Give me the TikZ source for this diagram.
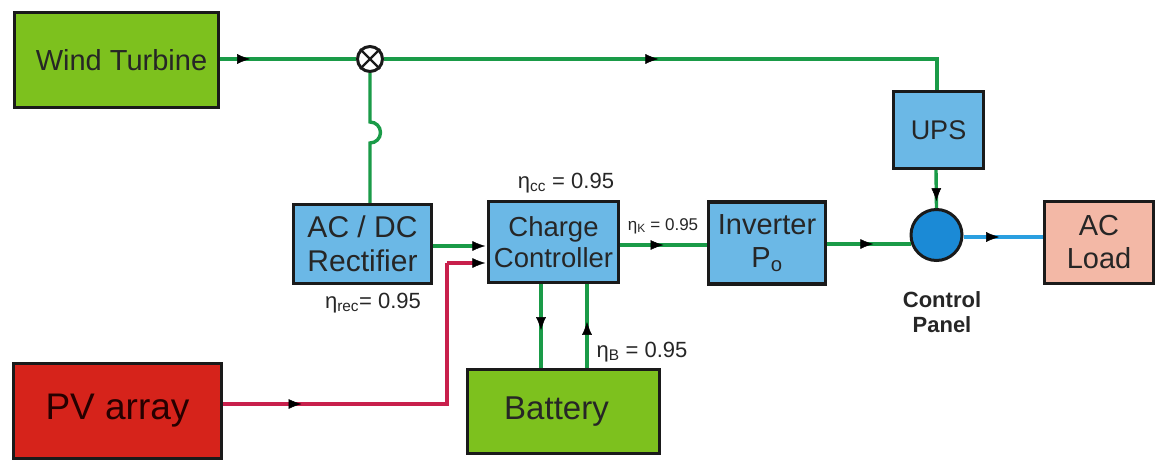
\documentclass[tikz,border=0pt]{standalone}
\usepackage{fontspec}
\setmainfont{Liberation Sans}
\usetikzlibrary{decorations.markings,arrows.meta}
\definecolor{boxgreen}{HTML}{7DC11E}
\definecolor{boxblue}{HTML}{6BB8E6}
\definecolor{boxred}{HTML}{D6231B}
\definecolor{boxsalmon}{HTML}{F3B8A6}
\definecolor{cpblue}{HTML}{1B8AD6}
\definecolor{linegreen}{HTML}{1A9B48}
\definecolor{linered}{HTML}{C8204C}
\definecolor{lineblue}{HTML}{2A9FE0}
\definecolor{txt}{HTML}{262626}
\definecolor{bord}{HTML}{1A1A1A}
\tikzset{
  blk/.style={draw=bord, line width=3.4pt, text=txt, align=center, inner sep=0pt,
    font=\fontsize{29}{33}\selectfont},
  gline/.style={draw=linegreen, line width=3.4pt},
  rline/.style={draw=linered, line width=3.4pt},
  bline/.style={draw=lineblue, line width=3.4pt},
  midarrow/.style={postaction={decorate}, decoration={markings,
    mark=at position #1 with {\arrow[black, line width=0.5pt]{Latex[length=13pt,width=10pt]}}}},
  endarrow/.style={-{Latex[length=13pt,width=10pt,black,line width=0.5pt]}, shorten >=1.5pt},
  eta/.style={text=txt, inner sep=0pt, font=\fontsize{22}{24}\selectfont},
}
\begin{document}
\begin{tikzpicture}[x=1pt,y=-1pt]
\useasboundingbox[fill=white] (0,0) rectangle (1157,463);
\coordinate (mixc) at (370,59);
\coordinate (upsin) at (937,59);
\coordinate (hopA) at (370,122);
\coordinate (redturn) at (447,404);
\coordinate (redup) at (447,263);
% boxes
\node[blk, fill=boxgreen, minimum width=204pt, minimum height=95pt] (wt) at (116.5,60) {\hspace*{10pt}Wind Turbine};
\node[blk, fill=boxblue, minimum width=90pt, minimum height=77pt, font=\fontsize{27}{31}\selectfont] (ups) at (938.5,130) {UPS};
\node[blk, fill=boxblue, minimum width=138pt, minimum height=79pt, font=\fontsize{30}{34}\selectfont] (rect) at (362.5,244) {AC / DC\\Rectifier};
\node[blk, fill=boxblue, minimum width=130pt, minimum height=81pt, font=\fontsize{27.5}{31}\selectfont] (cc) at (553.5,242) {Charge\\Controller};
\node[blk, fill=boxblue, minimum width=117pt, minimum height=82pt] (inv) at (767,243) {Inverter\\P\textsubscript{o}};
\node[blk, fill=boxsalmon, minimum width=109pt, minimum height=82pt] (load) at (1099,242.5) {AC\\Load};
\node[blk, fill=boxgreen, minimum width=192pt, minimum height=84pt, font=\fontsize{33}{37}\selectfont] (bat) at (563.5,411.5) {Battery\hspace*{14pt}};
\node[blk, fill=boxred, text=black!85!red, minimum width=208pt, minimum height=95pt, font=\fontsize{37}{41}\selectfont] (pv) at (117.5,411) {PV array};
\node[circle, draw=bord, line width=3pt, fill=white, minimum size=25pt, inner sep=0pt] (mix) at (mixc) {};
\draw[bord, line width=2.4pt] (mix.north west) -- (mix.south east) (mix.north east) -- (mix.south west);
\node[circle, draw=bord, line width=3pt, fill=cpblue, minimum size=51pt, inner sep=0pt] (cp) at (936.5,235) {};
% connectors
\draw[gline, midarrow=0.22] (wt.east |- mixc) -- (mix.west);
\draw[gline, midarrow=0.47] (mix.east) -- (upsin) -- (ups.north -| upsin);
\draw[gline] (mix.south) -- (hopA) arc(-90:90:10.5) -- (mix.south |- rect.north);
\draw[gline, endarrow] (rect.east |- 0,246) -- (cc.west |- 0,246);
\draw[rline] (pv.east |- redturn) -- (redturn) -- (redup);
\draw[rline, endarrow] (redup) -- (cc.west |- redup);
\draw[rline, midarrow=0.35] (pv.east |- redturn) -- (redturn);
\draw[gline, midarrow=0.5] (cc.east |- 0,245) -- (inv.west |- 0,245);
\draw[gline, midarrow=0.55] (inv.east |- 0,244) -- (911,244);
\draw[gline, midarrow=0.82] (ups.south -| 936,0) -- (cp.north);
\draw[bline, midarrow=0.45] (cp.east |- 0,237) -- (load.west |- 0,237);
\draw[gline, midarrow=0.55] (cc.south -| 541,0) -- (bat.north -| 541,0);
\draw[gline, midarrow=0.55] (bat.north -| 587,0) -- (cc.south -| 587,0);
% labels
\node[eta] (lcc) at (566,183) {η\textsubscript{cc} = 0.95};
\node[eta] (lrec) at (373,303) {η\textsubscript{rec}= 0.95};
\node[eta, font=\fontsize{17}{19}\selectfont] (lk) at (663,226) {η\textsubscript{K} = 0.95};
\node[eta] (lb) at (642,352) {η\textsubscript{B} = 0.95};
\node[text=txt, align=center, inner sep=0pt, font=\fontsize{22}{25}\selectfont\bfseries] (cpl) at (942,312) {Control\\Panel};
\end{tikzpicture}
\end{document}
